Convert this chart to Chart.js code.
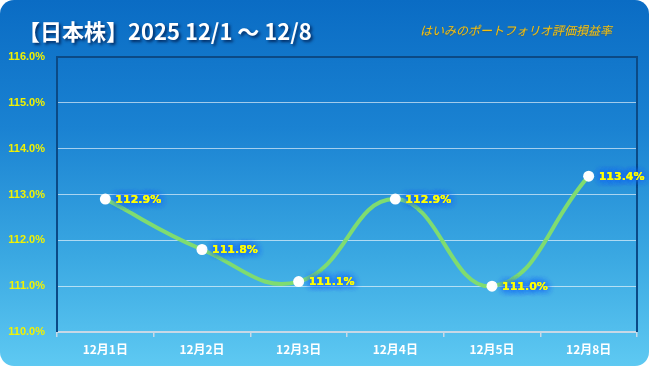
<!DOCTYPE html>
<html>
<head>
<meta charset="utf-8">
<script src="https://cdn.jsdelivr.net/npm/chart.js@4"></script>
<style>
  body { margin: 0; background: #fff; }
  #card {
    position: relative; width: 649px; height: 366px; box-sizing: border-box;
    border-radius: 14px; overflow: hidden;
    background: linear-gradient(to bottom, #0a6cc4 0%, #1a82d2 35%, #3aa8e2 70%, #5ec9f2 100%);
  }
  #title {
    position: absolute; left: 18px; top: 14px; color: #fff;
    font: bold 22px "Noto Sans CJK JP", sans-serif;
    text-shadow: 2px 2px 3px rgba(0, 30, 80, 0.85);
  }
  #sub {
    position: absolute; left: 420px; top: 21px; color: #f6c10c;
    font: italic 12px "Noto Sans CJK JP", sans-serif;
    text-shadow: 0 1px 1px rgba(120, 80, 0, 0.4);
  }
  canvas { position: absolute; left: 0; top: 0; }
</style>
</head>
<body>
<div id="card">
  <canvas id="c" width="649" height="366"></canvas>
  <div id="title">【日本株】2025 12/1 ～ 12/8</div>
  <div id="sub">はいみのポートフォリオ評価損益率</div>
</div>
<script>
const labels = ['12月1日', '12月2日', '12月3日', '12月4日', '12月5日', '12月8日'];
const values = [112.9, 111.8, 111.1, 112.9, 111.0, 113.4];
const yMin = 110, yMax = 116;

// 枠線 (プロットエリア)
const plotBorder = {
    id: 'plotBorder',
    beforeDatasetsDraw(chart) {
        const { ctx, chartArea: a } = chart;
        ctx.save();
        ctx.strokeStyle = '#0b4a86';
        ctx.lineWidth = 2;
        ctx.beginPath();
        ctx.moveTo(a.left, a.bottom);
        ctx.lineTo(a.left, a.top);
        ctx.lineTo(a.right, a.top);
        ctx.lineTo(a.right, a.bottom);
        ctx.stroke();
        ctx.restore();
    }
};

// データラベル
const valueLabels = {
    id: 'valueLabels',
    afterDatasetsDraw(chart) {
        const { ctx } = chart;
        const meta = chart.getDatasetMeta(0);
        ctx.save();
        ctx.font = 'bold 11px "DejaVu Sans", sans-serif';
        ctx.textBaseline = 'middle';
        meta.data.forEach((pt, i) => {
            const txt = values[i].toFixed(1) + '%';
            const x = pt.x + 10, y = pt.y + 1;
            ctx.shadowColor = '#1c66f0';
            ctx.shadowBlur = 7;
            ctx.fillStyle = '#ffff00';
            for (let k = 0; k < 4; k++) ctx.fillText(txt, x, y);
        });
        ctx.restore();
    }
};

new Chart(document.getElementById('c'), {
    type: 'line',
    data: {
        labels: labels,
        datasets: [{
            data: values,
            borderColor: '#7fdc70',
            borderWidth: 4,
            tension: 0.45,
            pointRadius: 5.5,
            pointBackgroundColor: '#ffffff',
            pointBorderColor: '#ffffff',
            pointBorderWidth: 0
        }]
    },
    options: {
        responsive: false,
        animation: false,
        layout: { padding: { top: 57, right: 12, left: 0, bottom: 0 } },
        plugins: { legend: { display: false }, tooltip: { enabled: false } },
        scales: {
            x: {
                offset: true,
                afterFit: s => { s.height = 34; },
                grid: { offset: true, drawOnChartArea: false, tickLength: 5, color: '#c8d8e6', lineWidth: 1.5 },
                border: { color: '#c8d8e6', width: 2 },
                ticks: { color: '#ffffff', font: { size: 12, weight: 'bold', family: '"Noto Sans CJK JP", sans-serif' }, padding: 5 }
            },
            y: {
                min: yMin, max: yMax,
                afterFit: s => { s.width = 57; },
                grid: { color: 'rgba(255,255,255,0.6)', lineWidth: 1, drawTicks: false },
                border: { display: false },
                ticks: {
                    stepSize: 1, padding: 12, color: '#f2f200',
                    font: { size: 11, weight: 'bold', family: '"Liberation Sans", sans-serif' },
                    callback: v => v.toFixed(1) + '%'
                }
            }
        }
    },
    plugins: [plotBorder, valueLabels]
});
</script>
</body>
</html>
